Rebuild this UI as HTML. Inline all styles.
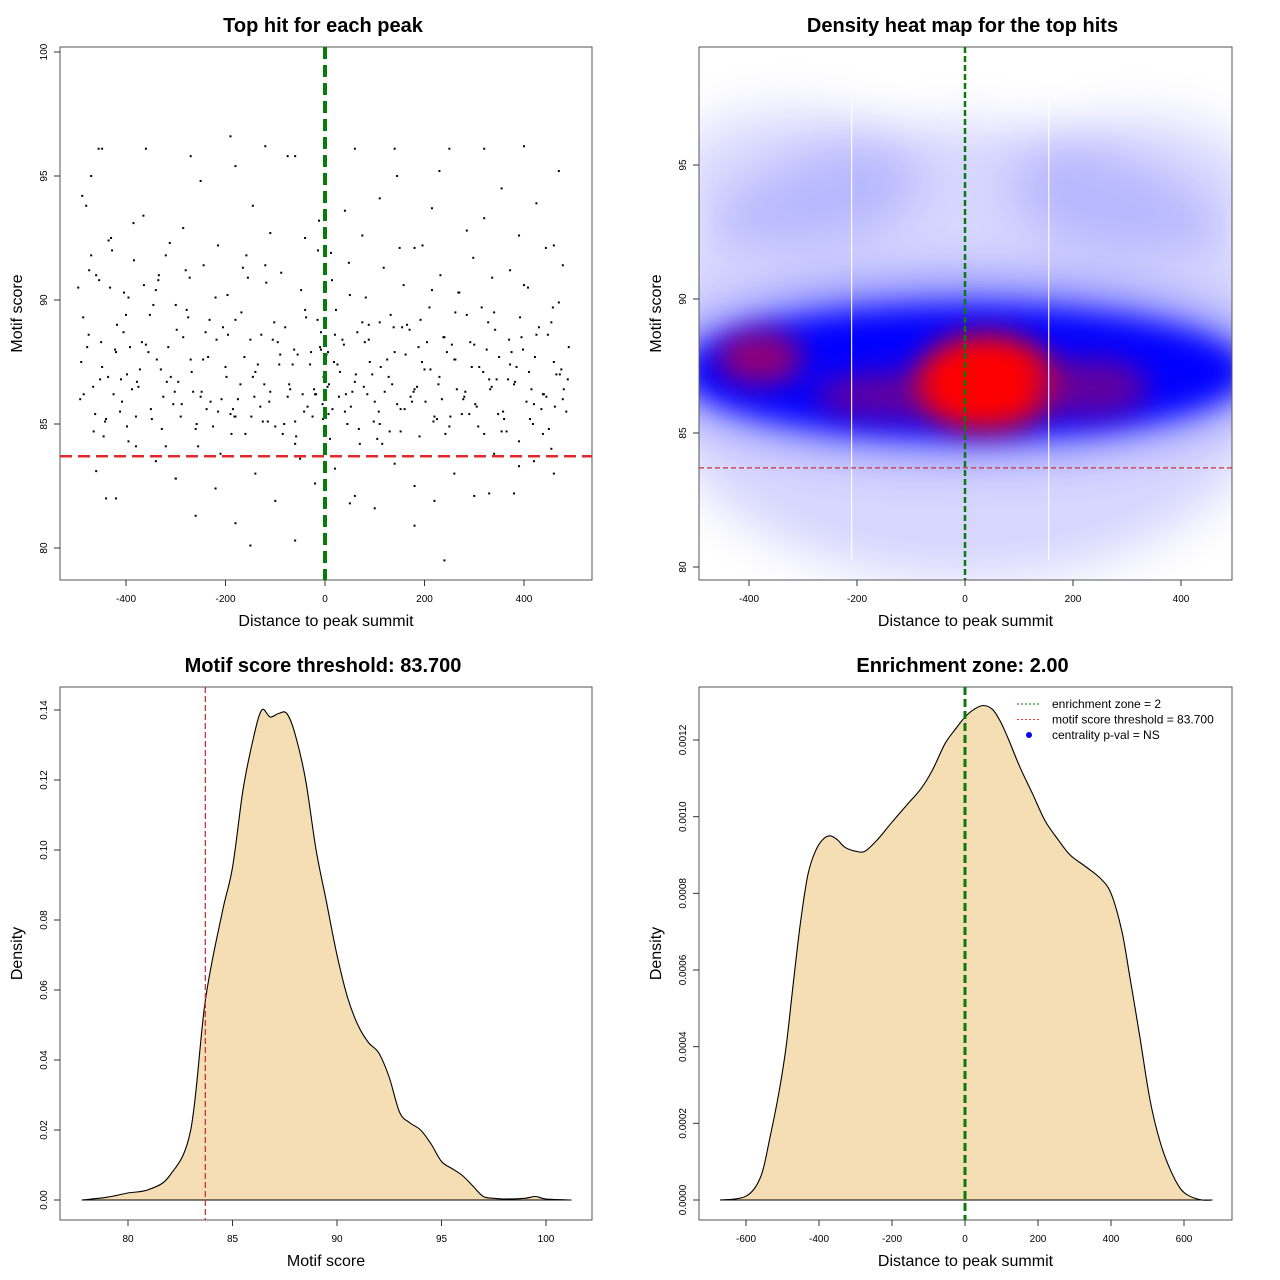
<!DOCTYPE html>
<html><head><meta charset="utf-8"><style>
html,body{margin:0;padding:0;background:#fff;}
svg{display:block;font-family:"Liberation Sans",sans-serif;}
</style></head><body>
<svg id="c" width="1280" height="1280" viewBox="0 0 1280 1280" xmlns="http://www.w3.org/2000/svg">
<defs>
<filter id="blur1" x="-50%" y="-50%" width="200%" height="200%"><feGaussianBlur stdDeviation="24"/></filter>
<filter id="blur2" x="-50%" y="-50%" width="200%" height="200%"><feGaussianBlur stdDeviation="14"/></filter>
<clipPath id="clip2"><rect x="699" y="47" width="533" height="533"/></clipPath>
</defs>
</svg>
<script>
// ---------- DATA ----------
const scX=[-490,-488,-485,-470,-465,-455,-450,-440,-430,-420,-410,-400,-395,-385,-375,-360,-350,-340,-330,-320,-310,-300,-290,-280,-270,-260,-250,-240,-230,-220,-210,-200,-190,-180,-170,-160,-150,-140,-130,-120,-110,-100,-90,-80,-70,-60,-50,-40,-30,-20,-10,-5,5,10,20,30,40,50,60,70,80,90,100,110,120,130,140,150,160,170,180,190,200,210,220,230,240,250,260,270,280,290,300,310,320,330,340,350,360,370,380,390,400,410,420,430,440,450,460,470,480,490,
-480,-460,-445,-425,-405,-380,-355,-335,-315,-295,-275,-255,-235,-215,-195,-175,-155,-135,-115,-95,-75,-55,-35,-15,-3,3,15,35,55,75,95,115,135,155,175,195,215,235,255,275,295,315,335,355,375,395,415,435,455,475,
-475,-452,-432,-412,-392,-372,-345,-325,-305,-285,-265,-245,-225,-205,-185,-165,-145,-125,-105,-85,-65,-45,-25,-8,8,25,45,65,85,105,125,145,165,185,205,225,245,265,285,305,325,345,365,385,405,425,445,465,485,
-470,-435,-395,-365,-320,-285,-250,-215,-180,-145,-110,-75,-40,-12,12,40,75,110,145,180,215,250,285,320,355,390,425,460,
-460,-420,-380,-340,-300,-260,-220,-180,-140,-100,-60,-20,0,20,60,100,140,180,220,260,300,340,380,420,460,
-448,-360,-270,-190,-120,-60,-2,60,140,230,320,400,470,-440,-300,-150,50,180,330,455,-180,-60,110,240,390,
-492,-478,-462,-448,-436,-422,-408,-398,-388,-368,-348,-338,-318,-298,-288,-268,-248,-238,-218,-198,-182,-162,-142,-128,-112,-92,-72,-62,-42,-28,-18,-8,2,7,18,28,38,52,62,78,88,98,112,128,138,152,162,178,188,202,212,228,238,252,262,278,292,302,318,332,342,358,372,382,398,412,422,438,448,462,472,488,
-486,-466,-442,-418,-398,-378,-352,-328,-302,-278,-258,-232,-208,-188,-168,-148,-122,-102,-82,-58,-38,-22,-4,6,22,42,68,88,108,132,152,172,192,218,242,262,282,308,328,348,368,392,418,438,458,478,
-496,-474,-454,-428,-404,-384,-364,-334,-312,-272,-244,-196,-158,-118,-88,-48,-14,14,48,82,118,158,196,232,268,298,336,372,408,444,478];
const scY=[87.5,94.2,86.2,91.8,84.7,96.1,88.3,85.2,92.5,87.9,86.8,89.4,84.3,93.1,86.5,88.2,85.6,90.4,87.2,84.1,86.9,89.8,85.3,91.2,87.6,84.8,86.1,88.7,85.9,90.1,83.8,87.3,85.4,89.2,86.6,84.6,88.4,87.1,85.7,91.4,86.3,84.9,87.8,88.9,86.4,85.1,83.6,89.6,87.4,86.2,88.1,85.8,86.5,84.4,88.6,87.1,85.5,90.2,86.7,84.2,88.3,87.5,85.9,89.1,86.3,84.7,87.9,92.1,85.6,88.8,86.4,84.5,87.2,89.7,85.3,86.9,88.5,84.9,87.6,90.3,86.1,85.4,88.2,87.3,84.6,86.8,89.5,87.7,85.2,88.4,86.6,84.3,90.6,87.1,85.8,88.9,86.2,84.8,87.5,89.9,86.4,88.1,
93.8,91.0,84.5,86.2,88.7,85.3,87.9,90.8,88.1,86.7,89.3,84.1,87.7,85.5,88.6,86.0,90.9,87.4,85.1,88.3,86.1,87.8,85.7,89.2,86.9,87.8,85.6,88.4,86.3,89.1,87.0,84.2,86.6,88.9,85.9,87.5,90.4,86.0,88.2,85.4,87.3,89.7,86.5,84.7,87.9,88.5,86.4,85.6,89.1,87.2,
88.6,86.8,90.5,85.5,88.1,87.2,89.8,86.1,85.8,88.5,86.3,87.6,84.9,88.9,85.6,91.3,86.9,85.1,88.4,84.6,87.4,86.2,85.3,88.0,86.6,87.4,85.0,88.7,86.2,84.4,87.6,85.8,89.0,86.5,88.3,85.2,87.9,86.4,89.4,85.7,88.0,86.8,84.7,87.3,85.9,88.6,86.1,87.0,85.5,
95.0,92.4,90.1,93.4,91.8,92.9,94.8,92.2,95.4,93.8,92.7,95.8,92.5,93.2,91.9,93.6,92.6,94.1,95.0,92.1,93.7,96.1,92.8,93.3,94.5,92.6,93.9,92.2,
83.1,82.0,84.1,83.5,82.8,81.3,82.4,81.0,83.0,81.9,80.3,82.6,79.8,83.2,82.1,81.6,83.4,82.5,81.9,83.0,82.1,83.8,82.2,83.5,83.0,
96.1,96.1,95.8,96.6,96.2,95.8,99.4,96.1,96.1,95.2,96.1,96.2,95.2,82.0,82.8,80.1,81.8,80.9,82.2,84.0,85.3,84.2,85.0,79.5,83.3,
86.0,88.1,85.4,87.3,86.9,88.0,85.9,87.0,86.4,88.3,85.2,87.6,86.7,88.8,85.8,87.1,86.3,85.6,88.4,86.9,85.3,87.7,86.1,88.6,85.9,87.4,86.6,88.0,85.5,87.9,86.2,88.7,86.8,85.4,87.5,86.1,88.2,85.7,87.0,86.5,88.4,85.1,87.3,86.9,88.9,85.6,87.8,86.3,88.1,85.9,87.2,86.6,88.5,85.3,87.6,86.0,88.3,85.8,87.1,86.4,88.8,85.5,87.4,86.7,88.0,85.2,87.7,86.2,88.6,85.7,87.0,86.8,
89.3,86.5,85.1,89.0,84.9,86.7,89.4,84.8,86.3,89.6,85.0,89.2,86.0,84.6,89.5,85.3,86.6,89.1,85.0,84.5,89.3,86.4,85.2,87.9,89.6,86.2,84.8,89.0,85.5,89.4,84.7,86.1,89.2,85.1,84.6,89.5,86.3,84.9,89.1,85.4,86.8,89.3,85.0,84.6,89.7,86.0,
90.5,91.2,90.8,92.0,90.3,91.6,90.6,91.0,92.3,90.9,91.4,90.2,91.8,90.7,91.1,90.4,92.0,90.8,91.5,90.1,91.3,90.6,92.2,91.0,90.3,91.7,90.9,91.2,90.5,92.1,91.4];
const threshold=[83.7];
const summit=[0];
// heatmap blobs (data units): x, y, rx, ry, color, opacity
const hmX=[0,-320,320,0,0,-380,-120,40,230];
const hmY=[88.0,94.5,94.2,87.4,87.3,87.8,86.4,86.9,86.7];
const hmRX=[600,230,230,560,520,80,160,130,110];
const hmRY=[8.5,2.6,2.6,3.2,2.4,1.0,0.9,1.8,1.1];
const hmColor=["#0000ff","#0000ff","#0000ff","#0000ff","#0000ff","#c0004a","#900070","#ff0000","#a00060"];
const hmOpacity=[0.16,0.14,0.14,0.45,1,0.75,0.65,1,0.6];
// motif score density
const dsX=[77.8,79,80,81,82,83,83.7,84.5,85,85.5,86,86.4,86.8,87.2,87.6,88,88.5,89,89.5,90,90.5,91,91.5,92,92.5,93,93.5,94,94.5,95,95.5,96,96.5,97,97.5,98,99,99.5,100,101.2];
const dsY=[0,0.0008,0.002,0.003,0.007,0.02,0.057,0.082,0.095,0.117,0.132,0.14,0.138,0.139,0.139,0.133,0.12,0.1,0.085,0.07,0.058,0.05,0.045,0.042,0.035,0.025,0.022,0.02,0.016,0.011,0.009,0.007,0.004,0.001,0.0005,0.0003,0.0005,0.001,0.0003,0];
// distance density
const ddX=[-670,-600,-560,-535,-510,-490,-470,-450,-430,-410,-390,-370,-350,-329,-300,-274,-240,-205,-160,-123,-90,-55,-25,0,25,50,75,96,120,150,185,219,255,288,330,370,400,430,452,480,507,535,562,590,616,650,677];
const ddY=[0,0.00001,0.00006,0.00016,0.00028,0.0004,0.00057,0.00073,0.00085,0.00091,0.00094,0.00095,0.00094,0.00092,0.00091,0.00091,0.00094,0.00098,0.00103,0.00107,0.00112,0.00119,0.00123,0.00126,0.00128,0.00129,0.00128,0.00125,0.0012,0.00113,0.00106,0.00099,0.00094,0.0009,0.00087,0.00084,0.0008,0.0007,0.00058,0.00042,0.00026,0.00015,0.00008,0.00003,0.00001,0,0];

// ---------- DRAW ----------
const svg=document.getElementById('c');
const NS="http://www.w3.org/2000/svg";
function el(tag,attrs,parent,text){const e=document.createElementNS(NS,tag);for(const k in attrs)e.setAttribute(k,attrs[k]);if(text!==undefined)e.textContent=text;(parent||svg).appendChild(e);return e;}
function lin(d0,d1,p0,p1){return v=>p0+(v-d0)*(p1-p0)/(d1-d0);}
function smoothPath(pts){
  let d=`M${pts[0][0].toFixed(1)},${pts[0][1].toFixed(1)}`;
  for(let i=0;i<pts.length-1;i++){
    const p0=pts[Math.max(i-1,0)],p1=pts[i],p2=pts[i+1],p3=pts[Math.min(i+2,pts.length-1)];
    const c1=[p1[0]+(p2[0]-p0[0])/6,p1[1]+(p2[1]-p0[1])/6];
    const c2=[p2[0]-(p3[0]-p1[0])/6,p2[1]-(p3[1]-p1[1])/6];
    d+=` C${c1[0].toFixed(1)},${c1[1].toFixed(1)} ${c2[0].toFixed(1)},${c2[1].toFixed(1)} ${p2[0].toFixed(1)},${p2[1].toFixed(1)}`;
  }
  return d;
}

function frame(x,y,w,h,title,xlab,ylab,name){
  const g=el('g',{},svg);
  
  
  const r=el('rect',{x:x,y:y,width:w,height:h,fill:'none',stroke:'#555','stroke-width':1},g);
  
  const t=el('text',{x:x+w/2-3,y:y-15,'text-anchor':'middle','font-size':20,'font-weight':'bold'},g,title);
  
  const xl=el('text',{x:x+w/2,y:y+h+46,'text-anchor':'middle','font-size':16},g,xlab);
  
  const yl=el('text',{x:0,y:0,'text-anchor':'middle','font-size':16,transform:`translate(${x-38},${y+h/2}) rotate(-90)`},g,ylab);
  
  return g;
}
function xticks(g,ticks,sx,yb){
  ticks.forEach(v=>{const px=sx(v);
    el('line',{x1:px,x2:px,y1:yb,y2:yb+6,stroke:'#333'},g);
    const t=el('text',{x:px,y:yb+22,'text-anchor':'middle','font-size':10},g,String(v));
    });
}
function yticks(g,ticks,sy,xl,fmt){
  ticks.forEach(v=>{const py=sy(v);
    el('line',{x1:xl,x2:xl-6,y1:py,y2:py,stroke:'#333'},g);
    const t=el('text',{x:0,y:0,'text-anchor':'middle','font-size':10,transform:`translate(${xl-13},${py}) rotate(-90)`},g,fmt?fmt(v):String(v));
    });
}

// Panel 1
{
 const sx=lin(0,400,325,524), sy=lin(80,100,548,52);
 const g=frame(60,47,532,533,'Top hit for each peak','Distance to peak summit','Motif score','scatter-panel');
 xticks(g,[-400,-200,0,200,400],sx,580);
 yticks(g,[80,85,90,95,100],sy,60);
 for(let i=0;i<scX.length;i++){
   const p=el('rect',{x:sx(scX[i])-1,y:sy(scY[i])-1,width:2,height:2,fill:'#000'},g);
   
 }
 const th=el('line',{x1:60,x2:592,y1:sy(threshold[0]),y2:sy(threshold[0]),stroke:'#e0282d','stroke-width':2.5,'stroke-dasharray':'12 6'},g);
 
 const sm=el('line',{x1:sx(summit[0]),x2:sx(summit[0]),y1:47,y2:580,stroke:'#0a7a0a','stroke-width':4,'stroke-dasharray':'12 6'},g);
 
}
// Panel 2
{
 const sx=lin(0,400,965,1181), sy=lin(80,95,567,165);
 const g=frame(699,47,533,533,'Density heat map for the top hits','Distance to peak summit','Motif score','heatmap-panel');
 const hg=el('g',{'clip-path':'url(#clip2)'},g);
 for(let i=0;i<hmX.length;i++){
   const cx=sx(hmX[i]),cy=sy(hmY[i]);
   const rx=sx(hmX[i]+hmRX[i])-cx, ry=cy-sy(hmY[i]+hmRY[i]);
   const e=el('ellipse',{cx:cx,cy:cy,rx:rx,ry:ry,fill:hmColor[i],'fill-opacity':hmOpacity[i],filter:i<4?'url(#blur1)':'url(#blur2)'},hg);
   
 }
 [-210,155].forEach(v=>{const l=el('line',{x1:sx(v),x2:sx(v),y1:100,y2:560,stroke:'#fff','stroke-width':1.2,'stroke-opacity':0.9},hg);
   });
 el('rect',{x:699,y:47,width:533,height:533,fill:'none',stroke:'#555'},g);
 xticks(g,[-400,-200,0,200,400],sx,580);
 yticks(g,[80,85,90,95],sy,699);
 const th=el('line',{x1:699,x2:1232,y1:sy(threshold[0]),y2:sy(threshold[0]),stroke:'#c8323c','stroke-width':1.2,'stroke-dasharray':'5 3'},g);
 
 const sm=el('line',{x1:sx(summit[0]),x2:sx(summit[0]),y1:47,y2:580,stroke:'#0a7a0a','stroke-width':2.5,'stroke-dasharray':'6 3'},g);
 
}
// Panel 3
{
 const sx=lin(80,100,128,546), sy=lin(0,0.14,1200,710);
 const g=frame(60,687,532,533,'Motif score threshold: 83.700','Motif score','Density','score-density-panel');
 const pts=dsX.map((v,i)=>[sx(v),sy(dsY[i])]);
 const d=smoothPath(pts)+` Z`;
 const a=el('path',{d:d,fill:'#f5deb3',stroke:'#000','stroke-width':1.1,'stroke-linejoin':'round'},g);
 
 el('line',{x1:sx(dsX[0]),x2:sx(dsX[dsX.length-1]),y1:sy(0),y2:sy(0),stroke:'#000'},g);
 xticks(g,[80,85,90,95,100],sx,1220);
 yticks(g,[0,0.02,0.04,0.06,0.08,0.1,0.12,0.14],sy,60,v=>v===0?'0.00':(v===0.1?'0.10':String(v)));
 const th=el('line',{x1:sx(threshold[0]),x2:sx(threshold[0]),y1:687,y2:1220,stroke:'#c8323c','stroke-width':1.3,'stroke-dasharray':'6 3'},g);
 
}
// Panel 4
{
 const sx=lin(0,600,965,1184), sy=lin(0,0.0012,1200,740);
 const g=frame(699,687,533,533,'Enrichment zone: 2.00','Distance to peak summit','Density','distance-density-panel');
 const pts=ddX.map((v,i)=>[sx(v),sy(ddY[i])]);
 const d=smoothPath(pts)+` Z`;
 const a=el('path',{d:d,fill:'#f5deb3',stroke:'#000','stroke-width':1.1,'stroke-linejoin':'round'},g);
 
 el('line',{x1:sx(ddX[0]),x2:sx(ddX[ddX.length-1]),y1:sy(0),y2:sy(0),stroke:'#000'},g);
 xticks(g,[-600,-400,-200,0,200,400,600],sx,1220);
 yticks(g,[0,0.0002,0.0004,0.0006,0.0008,0.001,0.0012],sy,699,v=>v.toFixed(4));
 const sm=el('line',{x1:sx(summit[0]),x2:sx(summit[0]),y1:687,y2:1220,stroke:'#0a7a0a','stroke-width':3,'stroke-dasharray':'8 4'},g);
 
 const lg=el('g',{},g);
 
 const items=[['enrichment zone = 2','#0a7a0a','line'],['motif score threshold = 83.700','#ff3030','line'],['centrality p-val = NS','#0000ff','dot']];
 items.forEach((it,i)=>{const y=704+i*15.5;
   const e=el('g',{},lg);
   
   if(it[2]==='line') el('line',{x1:1017,x2:1041,y1:y,y2:y,stroke:it[1],'stroke-width':1,'stroke-dasharray':'2 2'},e);
   else el('circle',{cx:1029,cy:y,r:3,fill:it[1]},e);
   el('text',{x:1052,y:y+4,'font-size':12},e,it[0]);
 });
}
</script>
</body></html>
